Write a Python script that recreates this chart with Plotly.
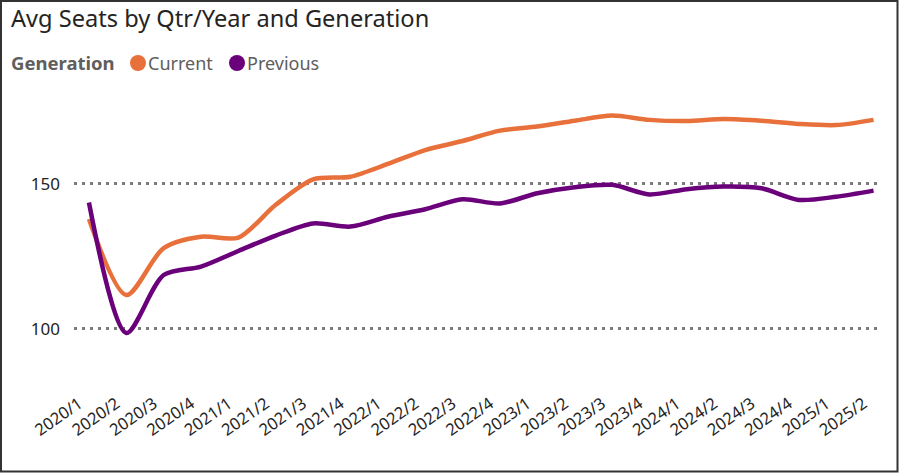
import plotly.graph_objects as go

quarters = ["2020/1","2020/2","2020/3","2020/4","2021/1","2021/2","2021/3","2021/4",
            "2022/1","2022/2","2022/3","2022/4","2023/1","2023/2","2023/3","2023/4",
            "2024/1","2024/2","2024/3","2024/4","2025/1","2025/2"]
current = [137.9,111.7,127.9,131.8,131.5,142.8,151.6,152.5,156.9,161.7,164.8,168.4,
           169.8,171.8,173.6,172.1,171.7,172.4,171.8,170.7,170.3,172.1]
previous = [143.6,98.6,118.6,121.5,126.9,132.2,136.4,135.3,138.7,141.3,144.7,143.3,
            146.8,148.9,149.7,146.4,148.2,149.1,148.5,144.5,145.6,147.7]
y_ticks = [100, 150]
series_names = ["Current", "Previous"]

C_CUR = "#E8703A"
C_PREV = "#6B007B"
LEG_GRAY = "#605E5C"

W, H = 899, 473
L, R, T, B = 74, 18, 90, 113
pw, ph = W - L - R, H - T - B
def px(x): return (x - L) / pw
def py(y): return (H - B - y) / ph

fig = go.Figure()
fig.add_trace(go.Scatter(x=quarters, y=current, mode="lines", name=series_names[0],
                         line=dict(color=C_CUR, width=4.5, shape="spline", smoothing=0.8),
                         showlegend=False))
fig.add_trace(go.Scatter(x=quarters, y=previous, mode="lines", name=series_names[1],
                         line=dict(color=C_PREV, width=4.5, shape="spline", smoothing=0.8),
                         showlegend=False))

# legend built from annotations + circle shapes for exact placement
def ann(text, x, color, size=18):
    return dict(text=text, xref="paper", yref="paper", x=px(x), y=py(63),
                xanchor="left", yanchor="middle", showarrow=False,
                font=dict(size=size, color=color, family="Noto Sans"))

def dot(x, color, r=8):
    return dict(type="circle", xref="paper", yref="paper",
                xsizemode="pixel", ysizemode="pixel",
                xanchor=px(x), yanchor=py(63), x0=-r, x1=r, y0=-r, y1=r,
                fillcolor=color, line=dict(width=0))

annotations = [
    ann("<b>Generation</b>", 9, LEG_GRAY, size=18.5),
    ann(series_names[0], 146, LEG_GRAY),
    ann(series_names[1], 245, LEG_GRAY),
]

frame = dict(type="rect", xref="paper", yref="paper",
             x0=px(1), x1=px(W - 1.5), y0=py(H - 1.5), y1=py(1),
             line=dict(color="#333333", width=2), fillcolor="rgba(0,0,0,0)",
             layer="above")

fig.update_layout(
    width=W, height=H,
    margin=dict(l=L, r=R, t=T, b=B, autoexpand=False),
    paper_bgcolor="white", plot_bgcolor="white",
    font=dict(family="Noto Sans", color="#252423"),
    showlegend=False,
    title=dict(text="Avg Seats by Qtr/Year and Generation", x=11 / W, xref="container",
               xanchor="left", y=1 - 19 / H, yanchor="middle", yref="container",
               font=dict(size=23.6, color="#252423")),
    annotations=annotations,
    xaxis=dict(type="category", range=[-0.4, 21.2], showgrid=False, zeroline=False,
               showline=False, tickangle=-35, tickfont=dict(size=16.5, color="#252423"),
               ticks="", ticklabelstandoff=30, ticklabelshift=-10),
    yaxis=dict(range=[89.3, 182.4], tickvals=y_ticks, showgrid=True,
               gridcolor="#7A7A7A", griddash="3px,5px", gridwidth=3, zeroline=False,
               showline=False, tickfont=dict(size=17, color="#252423"),
               ticklabelstandoff=13),
    shapes=[dot(138, C_CUR), dot(237, C_PREV), frame],
)

post = "document.body.style.margin='0';document.body.style.overflow='hidden';"
fig.write_html("out.html", config={"displayModeBar": False}, post_script=post)
